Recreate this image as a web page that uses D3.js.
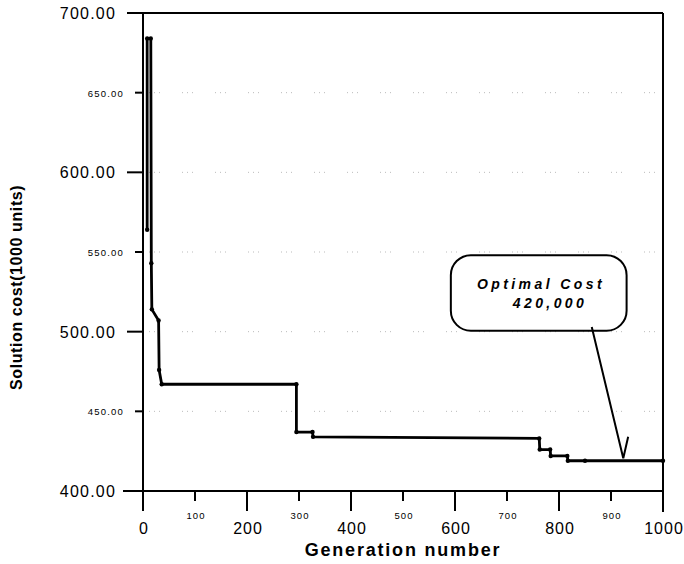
<!DOCTYPE html>
<html>
<head>
<meta charset="utf-8">
<script src="https://cdn.jsdelivr.net/npm/d3@7"></script>
<style>
    body { margin: 0; background: #fff; }
    svg { font-family: "Liberation Sans", Arial, sans-serif; }
</style>
</head>
<body>
<div id="chart"></div>
<script>
// datos: vértices de la línea escalonada
const generations = [8, 8, 15, 16, 17, 30, 31, 36, 295, 295, 326, 327, 762, 763, 783, 784, 816, 817, 850, 1000];
const costs = [564, 684, 684, 543, 514, 507, 476, 467, 467, 437, 437, 434, 433, 426, 426, 422, 422, 419, 419, 419];

// ticks (mayores con etiqueta grande, menores con etiqueta pequeña)
const xMajorTicks = [0, 200, 400, 600, 800, 1000];
const xMinorTicks = [100, 300, 500, 700, 900];
const yMajorTicks = [400, 500, 600, 700];
const yMinorTicks = [450, 550, 650];
const gridValues = [450, 500, 550, 600, 650];

// anotación
const noteLines = ["Optimal Cost", "420,000"];
const noteBox = [592, 930, 548, 500.6];        // x0, x1, y0, y1 (en unidades de datos)
const noteArrow = [863, 502.9, 923.6, 420.6];  // desde, hasta
const noteWing = [933, 434];

const width = 684, height = 564;
const svg = d3.select("#chart").append("svg")
    .attr("width", width)
    .attr("height", height);

const x = d3.scaleLinear([0, 1000], [143, 663]);
const y = d3.scaleLinear([400, 700], [491, 13]);

// rejilla punteada muy tenue
svg.append("g").selectAll("line")
    .data(gridValues)
    .enter().append("line")
    .attr("x1", x(0) + 6).attr("x2", x(1000) - 4)
    .attr("y1", d => y(d)).attr("y2", d => y(d))
    .style("stroke", "#bbb")
    .style("stroke-width", 1)
    .style("stroke-dasharray", "1,4,1,4,1,22");

// marco: eje y, eje x, borde superior y derecho (se pasan un poco)
const frame = svg.append("g").style("stroke", "#000").style("stroke-width", 2);
frame.append("line").attr("x1", x(0)).attr("x2", x(0)).attr("y1", y(700)).attr("y2", y(400) + 20);
frame.append("line").attr("x1", x(0) - 20).attr("x2", x(1000)).attr("y1", y(400)).attr("y2", y(400));
frame.append("line").attr("x1", x(0) - 16).attr("x2", x(1000)).attr("y1", y(700)).attr("y2", y(700));
frame.append("line").attr("x1", x(1000)).attr("x2", x(1000)).attr("y1", y(700)).attr("y2", y(400) + 21);

// ticks del eje x
frame.selectAll(".xmaj")
    .data(xMajorTicks)
    .enter().append("line")
    .attr("x1", d => x(d)).attr("x2", d => x(d))
    .attr("y1", y(400)).attr("y2", y(400) + 20);
frame.selectAll(".xmin")
    .data(xMinorTicks)
    .enter().append("line")
    .attr("x1", d => x(d)).attr("x2", d => x(d))
    .attr("y1", y(400)).attr("y2", y(400) + 10);

// ticks del eje y
frame.selectAll(".ymaj")
    .data(yMajorTicks)
    .enter().append("line")
    .attr("x1", x(0) - 16).attr("x2", x(0))
    .attr("y1", d => y(d)).attr("y2", d => y(d));
frame.selectAll(".ymin")
    .data(yMinorTicks)
    .enter().append("line")
    .attr("x1", x(0) - 8).attr("x2", x(0))
    .attr("y1", d => y(d)).attr("y2", d => y(d));

// etiquetas
svg.selectAll(".xlabmaj")
    .data(xMajorTicks)
    .enter().append("text")
    .attr("x", d => x(d) + 1).attr("y", 534)
    .attr("text-anchor", "middle")
    .style("font-size", "16px")
    .style("letter-spacing", "1px")
    .text(d => d);
svg.selectAll(".xlabmin")
    .data(xMinorTicks)
    .enter().append("text")
    .attr("x", d => x(d) + 1).attr("y", 519)
    .attr("text-anchor", "middle")
    .style("font-size", "9.5px")
    .style("letter-spacing", "1px")
    .text(d => d);
svg.selectAll(".ylabmaj")
    .data(yMajorTicks)
    .enter().append("text")
    .attr("x", 116).attr("y", d => y(d) + 6)
    .attr("text-anchor", "end")
    .style("font-size", "16px")
    .style("letter-spacing", "1.2px")
    .text(d => d.toFixed(2));
svg.selectAll(".ylabmin")
    .data(yMinorTicks)
    .enter().append("text")
    .attr("x", 124).attr("y", d => y(d) + 4)
    .attr("text-anchor", "end")
    .style("font-size", "9.5px")
    .style("letter-spacing", "1.2px")
    .text(d => d.toFixed(2));

// títulos de los ejes
svg.append("text")
    .attr("x", (x(0) + x(1000)) / 2).attr("y", 556)
    .attr("text-anchor", "middle")
    .style("font-size", "18px")
    .style("font-weight", "bold")
    .style("letter-spacing", "1.8px")
    .text("Generation number");
svg.append("text")
    .attr("transform", "translate(22,390) rotate(-90)")
    .attr("text-anchor", "start")
    .style("font-size", "16px")
    .style("font-weight", "bold")
    .style("letter-spacing", "0.6px")
    .text("Solution cost(1000 units)");

// la serie
const points = generations.map((g, i) => ({ g: g, c: costs[i] }));
svg.append("path")
    .datum(points)
    .attr("d", d3.line().x(d => x(d.g)).y(d => y(d.c)))
    .style("fill", "none")
    .style("stroke", "#000")
    .style("stroke-width", 2.8)
    .style("stroke-linejoin", "round");
svg.append("g").selectAll("circle")
    .data(points)
    .enter().append("circle")
    .attr("cx", d => x(d.g))
    .attr("cy", d => y(d.c))
    .attr("r", 2.2)
    .style("fill", "#000");

// caja redondeada y flecha
svg.append("rect")
    .attr("x", x(noteBox[0])).attr("y", y(noteBox[2]))
    .attr("width", x(noteBox[1]) - x(noteBox[0]))
    .attr("height", y(noteBox[3]) - y(noteBox[2]))
    .attr("rx", 20).attr("ry", 20)
    .style("fill", "#fff")
    .style("stroke", "#000")
    .style("stroke-width", 2);
svg.append("polyline")
    .attr("points", [
        [x(noteArrow[0]), y(noteArrow[1])],
        [x(noteArrow[2]), y(noteArrow[3])],
        [x(noteWing[0]), y(noteWing[1])]
    ].map(p => p.join(",")).join(" "))
    .style("fill", "none")
    .style("stroke", "#000")
    .style("stroke-width", 2);
svg.selectAll(".note")
    .data(noteLines)
    .enter().append("text")
    .attr("x", (d, i) => i == 0 ? 541 : 550)
    .attr("y", (d, i) => 289 + i * 19)
    .attr("text-anchor", "middle")
    .style("font-size", "14px")
    .style("font-weight", "bold")
    .style("font-style", "italic")
    .style("letter-spacing", "3.4px")
    .text(d => d);
</script>
</body>
</html>
